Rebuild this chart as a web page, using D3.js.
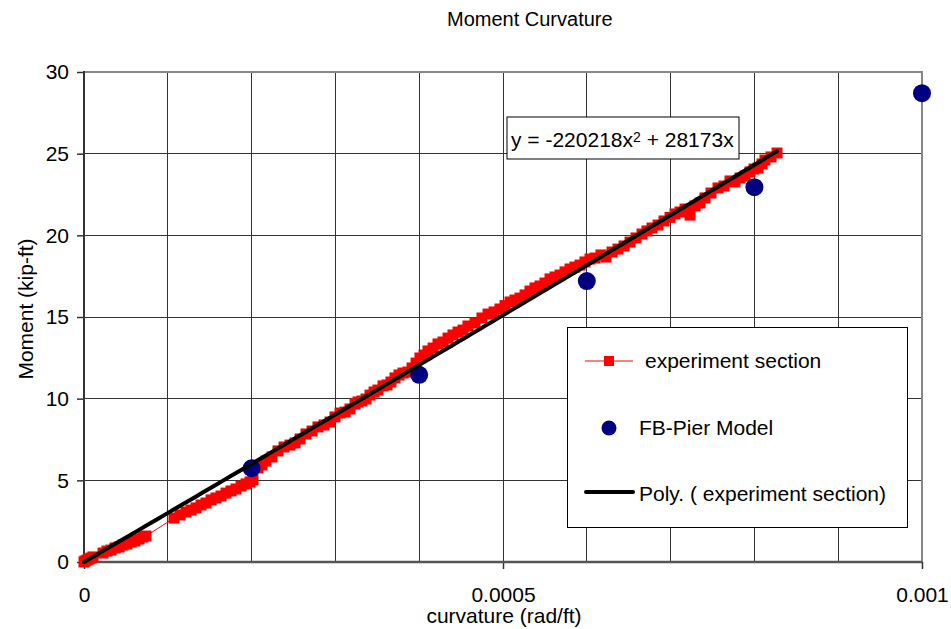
<!DOCTYPE html>
<html>
<head>
<meta charset="utf-8">
<script src="https://cdn.jsdelivr.net/npm/d3@7"></script>
<style>
  html, body { margin: 0; padding: 0; background: #fff; }
  svg { display: block; font-family: "Liberation Sans", Arial, sans-serif; }
</style>
</head>
<body>
<svg id="chart" width="951" height="629"></svg>
<script>
// Measured moment-curvature points for the experiment section
const expCurvature = [
  0, 0.0000012, 0.0000036, 0.000006, 0.0000084, 0.0000107,
  0.0000227, 0.0000274, 0.0000322, 0.000037, 0.0000418, 0.0000465,
  0.0000513, 0.0000561, 0.0000609, 0.0000656, 0.0000704, 0.000074,
  0.0001074, 0.0001146, 0.0001217, 0.0001277, 0.0001337, 0.0001396,
  0.0001456, 0.0001516, 0.0001575, 0.0001635, 0.0001695, 0.0001754,
  0.0001814, 0.0001874, 0.0001933, 0.0001981, 0.0002017, 0.0002076,
  0.0002124, 0.0002172, 0.0002243, 0.0002315, 0.0002387, 0.0002458,
  0.0002518, 0.0002578, 0.0002649, 0.0002721, 0.0002792, 0.0002864,
  0.0002936, 0.0002995, 0.0003055, 0.0003115, 0.0003174, 0.0003234,
  0.000327, 0.0003317, 0.0003365, 0.0003413, 0.0003461, 0.0003508,
  0.0003568, 0.0003616, 0.0003663, 0.0003711, 0.0003759, 0.0003807,
  0.0003866, 0.0003914, 0.0003962, 0.0004009, 0.0004057, 0.0004105,
  0.0004165, 0.0004224, 0.0004284, 0.0004344, 0.0004403, 0.0004463,
  0.0004523, 0.0004582, 0.0004666, 0.0004749, 0.0004821, 0.0004893,
  0.0004964, 0.0005024, 0.0005084, 0.0005143, 0.0005203, 0.0005263,
  0.0005322, 0.0005382, 0.0005442, 0.0005501, 0.0005561, 0.0005621,
  0.000568, 0.000574, 0.00058, 0.0005859, 0.0005919, 0.0005978,
  0.0006038, 0.0006098, 0.0006169, 0.0006229, 0.0006301, 0.0006372,
  0.0006444, 0.0006516, 0.0006587, 0.0006659, 0.0006718, 0.0006778,
  0.000685, 0.0006921, 0.0006993, 0.0007052, 0.0007112, 0.0007172,
  0.0007232, 0.0007291, 0.0007351, 0.000741, 0.0007482, 0.0007566,
  0.0007637, 0.0007709, 0.0007768, 0.0007828, 0.0007888, 0.0007947,
  0.0007995, 0.0008043, 0.0008091, 0.0008126, 0.0008198, 0.000827
];
const expMoment = [
  0, 0.06, 0.12, 0.18, 0.24, 0.31,
  0.55, 0.67, 0.73, 0.86, 0.92, 1.04,
  1.10, 1.22, 1.29, 1.41, 1.53, 1.59,
  2.69, 2.88, 3.06, 3.18, 3.31, 3.49,
  3.61, 3.80, 3.92, 4.04, 4.22, 4.35,
  4.47, 4.65, 4.78, 4.90, 5.02, 5.76,
  5.94, 6.18, 6.43, 6.80, 7.04, 7.16,
  7.29, 7.53, 7.84, 8.02, 8.27, 8.39,
  8.57, 8.88, 9.12, 9.18, 9.37, 9.67,
  9.80, 9.86, 9.98, 10.22, 10.41, 10.53,
  10.78, 10.84, 11.02, 11.27, 11.45, 11.57,
  11.63, 11.88, 12.18, 12.49, 12.67, 12.92,
  13.10, 13.35, 13.47, 13.71, 13.90, 14.08,
  14.20, 14.45, 14.63, 14.94, 15.18, 15.31,
  15.49, 15.70, 15.92, 16.04, 16.16, 16.35,
  16.59, 16.78, 16.90, 17.08, 17.33, 17.45,
  17.57, 17.76, 17.94, 18.06, 18.18, 18.37,
  18.55, 18.61, 18.80, 18.67, 18.98, 19.16,
  19.35, 19.59, 19.84, 20.08, 20.27, 20.45,
  20.63, 20.88, 21.10, 21.31, 21.43, 21.61,
  21.24, 21.80, 21.98, 22.29, 22.59, 22.90,
  23.02, 23.33, 23.27, 23.51, 23.63, 23.88,
  24.06, 24.12, 24.37, 24.61, 24.80, 25.04
];

// FB-Pier model predictions
const fbCurvature = [0.0002, 0.0004, 0.0006, 0.0008, 0.001];
const fbMoment = [5.74, 11.46, 17.2, 22.95, 28.7];

// Axis ticks and labels
const xTicks = [0, 0.0005, 0.001];
const xTickLabels = ["0", "0.0005", "0.001"];
const xGrid = [0.0001, 0.0002, 0.0003, 0.0004, 0.0005, 0.0006, 0.0007, 0.0008, 0.0009];
const yTicks = [0, 5, 10, 15, 20, 25, 30];
const yTickLabels = ["0", "5", "10", "15", "20", "25", "30"];

const titleText = "Moment Curvature";
const xTitle = "curvature (rad/ft)";
const yTitle = "Moment (kip-ft)";
const legendLabels = ["experiment section", "FB-Pier Model", "Poly. ( experiment section)"];
const equationParts = ["y = -220218x", "2", " + 28173x"];

const FONT = 21;
const svg = d3.select("#chart");
const plotL = 84, plotR = 922, plotT = 72, plotB = 562;

const x = d3.scaleLinear().domain([0, 0.001]).range([plotL, plotR]);
const y = d3.scaleLinear().domain([0, 30]).range([plotB, plotT]);

// Gridlines
svg.append("g").selectAll("line").data(xGrid).join("line")
  .attr("x1", d => x(d)).attr("x2", d => x(d))
  .attr("y1", plotT).attr("y2", plotB)
  .attr("stroke", "#333").attr("stroke-width", 1).attr("shape-rendering", "crispEdges");
svg.append("g").selectAll("line").data(yTicks.filter(v => v > 0 && v < 30)).join("line")
  .attr("x1", plotL).attr("x2", plotR)
  .attr("y1", d => y(d)).attr("y2", d => y(d))
  .attr("stroke", "#333").attr("stroke-width", 1).attr("shape-rendering", "crispEdges");

// Plot frame (top and right)
svg.append("path")
  .attr("d", `M${plotL},${y(30)}H${plotR}V${plotB}`)
  .attr("fill", "none").attr("stroke", "#888").attr("stroke-width", 2);

// Axes
const yAxis = d3.axisLeft(y).tickValues(yTicks)
  .tickFormat((d, i) => yTickLabels[i]).tickSize(7).tickPadding(8);
const gy = svg.append("g").attr("transform", `translate(${plotL},0)`).call(yAxis);
gy.select(".domain").remove();
gy.selectAll(".tick line").attr("stroke", "#333").attr("stroke-width", 1.5);
gy.selectAll(".tick text").attr("font-size", FONT).attr("fill", "#000")
  .attr("font-family", "Liberation Sans, Arial, sans-serif");

const xAxis = d3.axisBottom(x).tickValues(xTicks)
  .tickFormat((d, i) => xTickLabels[i]).tickSize(7).tickPadding(18);
const gx = svg.append("g").attr("transform", `translate(0,${plotB})`).call(xAxis);
gx.select(".domain").remove();
gx.selectAll(".tick line").attr("stroke", "#333").attr("stroke-width", 1.5);
gx.selectAll(".tick text").attr("font-size", FONT).attr("fill", "#000")
  .attr("font-family", "Liberation Sans, Arial, sans-serif");

svg.append("line").attr("x1", plotL).attr("x2", plotL).attr("y1", plotT - 1).attr("y2", plotB + 1)
  .attr("stroke", "#333").attr("stroke-width", 2);
svg.append("line").attr("x1", plotL).attr("x2", plotR).attr("y1", plotB).attr("y2", plotB)
  .attr("stroke", "#555").attr("stroke-width", 2.5);

// Experiment series: thin red line with square markers
const expData = expCurvature.map((c, i) => [c, expMoment[i]]);
const line = d3.line().x(d => x(d[0])).y(d => y(d[1]));
svg.append("path").datum(expData).attr("d", line)
  .attr("fill", "none").attr("stroke", "#ff0000").attr("stroke-width", 1);
const sq = 11;
svg.append("g").selectAll("rect").data(expData).join("rect")
  .attr("x", d => x(d[0]) - sq / 2).attr("y", d => y(d[1]) - sq / 2)
  .attr("width", sq).attr("height", sq).attr("fill", "#ff0000");

// FB-Pier model points
svg.append("g").selectAll("circle").data(fbCurvature.map((c, i) => [c, fbMoment[i]])).join("circle")
  .attr("cx", d => x(d[0])).attr("cy", d => y(d[1])).attr("r", 9)
  .attr("fill", "#000080");

// Second-order polynomial trendline (through origin) fitted to the experiment data
let s2 = 0, s3 = 0, s4 = 0, sxy = 0, sx2y = 0;
expData.forEach(([c, m]) => {
  const u = c * 1000;
  s2 += u * u; s3 += u * u * u; s4 += u * u * u * u;
  sxy += u * m; sx2y += u * u * m;
});
const det = s4 * s2 - s3 * s3;
const qa = (sx2y * s2 - sxy * s3) / det;
const qb = (s4 * sxy - s3 * sx2y) / det;
const xMax = d3.max(expCurvature);
const trend = d3.range(0, 101).map(i => {
  const c = xMax * i / 100, u = c * 1000;
  return [c, qa * u * u + qb * u];
});
svg.append("path").datum(trend).attr("d", line)
  .attr("fill", "none").attr("stroke", "#000").attr("stroke-width", 4)
  .attr("stroke-linecap", "round");

// Trendline equation box
svg.append("rect").attr("x", 507).attr("y", 117).attr("width", 232).attr("height", 42)
  .attr("fill", "#fff").attr("stroke", "#000").attr("stroke-width", 1);
const eq = svg.append("text").attr("x", 511).attr("y", 147).attr("font-size", FONT).attr("fill", "#000");
eq.append("tspan").text(equationParts[0]);
eq.append("tspan").attr("font-size", 14).attr("dy", -5).text(equationParts[1]);
eq.append("tspan").attr("dy", 5).text(equationParts[2]);

// Legend
const lg = svg.append("g");
lg.append("rect").attr("x", 567.5).attr("y", 327.5).attr("width", 340).attr("height", 200)
  .attr("fill", "#fff").attr("stroke", "#000").attr("stroke-width", 1);
lg.append("line").attr("x1", 585).attr("x2", 633).attr("y1", 361).attr("y2", 361)
  .attr("stroke", "#ff0000").attr("stroke-width", 1);
lg.append("rect").attr("x", 604).attr("y", 356).attr("width", 10).attr("height", 10).attr("fill", "#ff0000");
lg.append("circle").attr("cx", 609).attr("cy", 428).attr("r", 7.5).attr("fill", "#000080");
lg.append("line").attr("x1", 586).attr("x2", 633).attr("y1", 492).attr("y2", 492)
  .attr("stroke", "#000").attr("stroke-width", 4).attr("stroke-linecap", "round");
const lgText = [[645, 368], [639, 435], [639, 501]];
lg.selectAll("text").data(legendLabels).join("text")
  .attr("x", (d, i) => lgText[i][0]).attr("y", (d, i) => lgText[i][1])
  .attr("font-size", FONT).attr("fill", "#000").text(d => d);

// Titles
svg.append("text").attr("x", 447).attr("y", 26)
  .attr("font-size", 20).text(titleText);
svg.append("text").attr("x", 504).attr("y", 623).attr("text-anchor", "middle")
  .attr("font-size", FONT).text(xTitle);
svg.append("text").attr("transform", "translate(33,309) rotate(-90)").attr("text-anchor", "middle")
  .attr("font-size", FONT).text(yTitle);
</script>
</body>
</html>
